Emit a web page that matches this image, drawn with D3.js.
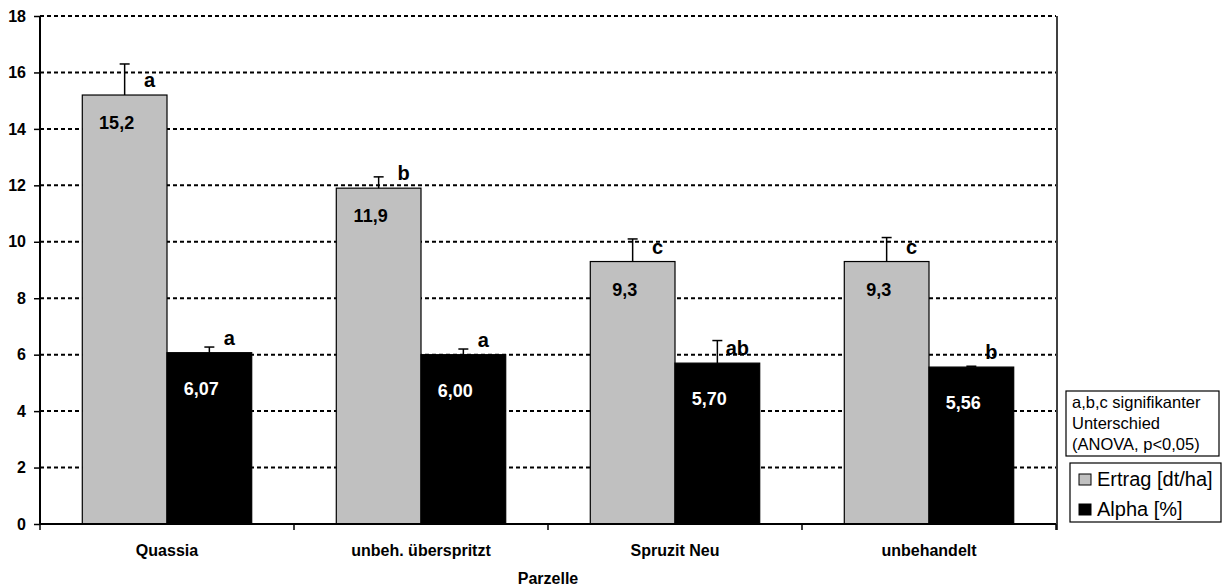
<!DOCTYPE html>
<html><head><meta charset="utf-8">
<script src="https://cdn.jsdelivr.net/npm/d3@7"></script>
<style>body{margin:0;background:#fff}svg{display:block;font-family:"Liberation Sans",Arial,sans-serif}</style>
</head><body><svg id="c" width="1229" height="588"></svg>
<script>
const categories = ["Quassia", "unbeh. überspritzt", "Spruzit Neu", "unbehandelt"];
const ertrag = [15.2, 11.9, 9.3, 9.3];
const ertragErr = [1.1, 0.4, 0.8, 0.85];
const ertragLabels = ["15,2", "11,9", "9,3", "9,3"];
const ertragLetters = ["a", "b", "c", "c"];
const alpha = [6.07, 6.00, 5.70, 5.56];
const alphaErr = [0.2, 0.2, 0.8, 0.03];
const alphaLabels = ["6,07", "6,00", "5,70", "5,56"];
const alphaLetters = ["a", "a", "ab", "b"];
const yTicks = [0, 2, 4, 6, 8, 10, 12, 14, 16, 18];
const seriesNames = ["Ertrag [dt/ha]", "Alpha [%]"];
const seriesColors = ["#C0C0C0", "#000000"];
const noteLines = ["a,b,c signifikanter", "Unterschied", "(ANOVA, p<0,05)"];

const svg = d3.select("#c");
const L = 40, R = 1056, T = 16, B = 524;
const x = d3.scaleBand().domain(categories).range([L, R]).paddingInner(0.333).paddingOuter(0.1665);
const y = d3.scaleLinear().domain([0, 18]).range([B, T]);
const bw = x.bandwidth() / 2;

// gridlines
svg.append("g").selectAll("line").data(yTicks.filter(d => d > 0)).join("line")
  .attr("x1", L).attr("x2", R).attr("y1", d => y(d)).attr("y2", d => y(d))
  .attr("stroke", "#000").attr("stroke-width", 2).attr("stroke-dasharray", "4,3");
// right border
svg.append("line").attr("x1", R + 1).attr("x2", R + 1).attr("y1", T).attr("y2", B + 6)
  .attr("stroke", "#000").attr("stroke-width", 1.5);

const series = [
  {vals: ertrag, err: ertragErr, labels: ertragLabels, letters: ertragLetters, color: seriesColors[0], txt: "#000", off: 0, lblDy: 34, letDx: 25},
  {vals: alpha, err: alphaErr, labels: alphaLabels, letters: alphaLetters, color: seriesColors[1], txt: "#fff", off: 1, lblDy: 42, letDx: 20}
];
series.forEach(s => {
  const g = svg.append("g");
  const cx = (c) => x(c) + s.off * bw + bw / 2;
  g.selectAll("rect").data(categories).join("rect")
    .attr("x", c => x(c) + s.off * bw).attr("width", bw)
    .attr("y", (c, i) => y(s.vals[i])).attr("height", (c, i) => B - y(s.vals[i]))
    .attr("fill", s.color).attr("stroke", "#000").attr("stroke-width", 1.2);
  // error bars
  g.selectAll("line.e").data(categories).join("line").attr("class", "e")
    .attr("x1", cx).attr("x2", cx)
    .attr("y1", (c, i) => y(s.vals[i])).attr("y2", (c, i) => y(s.vals[i] + s.err[i]))
    .attr("stroke", "#000").attr("stroke-width", 1.5);
  g.selectAll("line.cap").data(categories).join("line").attr("class", "cap")
    .attr("x1", c => cx(c) - 5).attr("x2", c => cx(c) + 5)
    .attr("y1", (c, i) => y(s.vals[i] + s.err[i])).attr("y2", (c, i) => y(s.vals[i] + s.err[i]))
    .attr("stroke", "#000").attr("stroke-width", 1.5);
  // value labels
  g.selectAll("text.v").data(categories).join("text").attr("class", "v")
    .attr("x", c => cx(c) - 8).attr("y", (c, i) => y(s.vals[i]) + s.lblDy)
    .attr("text-anchor", "middle").attr("font-size", 18).attr("font-weight", "bold")
    .attr("fill", s.txt).text((c, i) => s.labels[i]);
  // letters
  g.selectAll("text.l").data(categories).join("text").attr("class", "l")
    .attr("x", c => cx(c) + s.letDx).attr("y", (c, i) => y(s.vals[i]) - 8)
    .attr("text-anchor", "middle").attr("font-size", 20).attr("font-weight", "bold")
    .attr("fill", "#000").text((c, i) => s.letters[i]);
});

// y axis
const ya = svg.append("g").attr("transform", `translate(${L},0)`)
  .call(d3.axisLeft(y).tickValues(yTicks).tickSize(6).tickPadding(8).tickFormat(d3.format("d")));
ya.select(".domain").attr("stroke-width", 2).attr("d", `M0,${T}V${B}`);
ya.selectAll(".tick line").attr("stroke-width", 1.5);
ya.selectAll("text").attr("font-size", 16).attr("font-weight", "bold")
  .attr("font-family", "Liberation Sans, Arial, sans-serif").attr("fill", "#000");

// x axis
const xg = svg.append("g").attr("transform", `translate(0,${B})`);
xg.append("line").attr("x1", L).attr("x2", R).attr("stroke", "#000").attr("stroke-width", 2);
const bounds = categories.map(c => x(c) - x.step() * x.paddingInner() / 2).concat([R]);
xg.selectAll("line.t").data(bounds).join("line").attr("class", "t")
  .attr("x1", d => d).attr("x2", d => d).attr("y1", 0).attr("y2", 6)
  .attr("stroke", "#000").attr("stroke-width", 1.5);
xg.selectAll("text").data(categories).join("text")
  .attr("x", c => x(c) + x.bandwidth() / 2).attr("y", 32)
  .attr("text-anchor", "middle").attr("font-size", 16).attr("font-weight", "bold").text(c => c);
svg.append("text").attr("x", (L + R) / 2).attr("y", 584).attr("text-anchor", "middle")
  .attr("font-size", 16).attr("font-weight", "bold").text("Parzelle");

// note box
svg.append("rect").attr("x", 1066).attr("y", 391).attr("width", 153).attr("height", 65)
  .attr("fill", "#fff").attr("stroke", "#000").attr("stroke-width", 1.2);
svg.selectAll("text.n").data(noteLines).join("text").attr("class", "n")
  .attr("x", 1072).attr("y", (d, i) => 408 + i * 21).attr("font-size", 16.5).text(d => d);

// legend
svg.append("rect").attr("x", 1070).attr("y", 463).attr("width", 151).attr("height", 59)
  .attr("fill", "#fff").attr("stroke", "#000").attr("stroke-width", 1.2);
const lg = svg.selectAll("g.lg").data(seriesNames).join("g").attr("class", "lg")
  .attr("transform", (d, i) => `translate(1079,${474 + i * 30})`);
lg.append("rect").attr("width", 12).attr("height", 11)
  .attr("fill", (d, i) => seriesColors[i]).attr("stroke", "#000").attr("stroke-width", 1);
lg.append("text").attr("x", 18).attr("y", 12).attr("font-size", 20).text(d => d);
</script></body></html>
